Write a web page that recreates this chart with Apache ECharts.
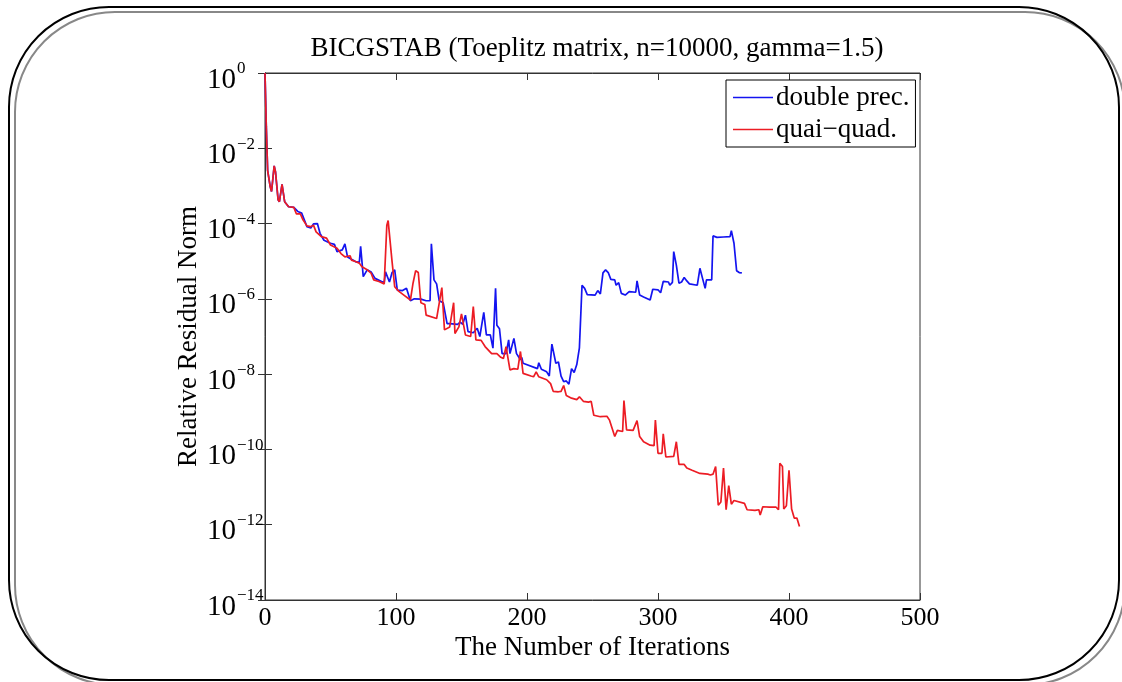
<!DOCTYPE html>
<html>
<head>
<meta charset="utf-8">
<script src="https://cdn.jsdelivr.net/npm/echarts@6/dist/echarts.min.js"></script>
<style>
html,body{margin:0;padding:0;background:#fff;}
#c{width:1122px;height:682px;}
</style>
</head>
<body>
<div id="c"></div>
<script>
// ---- data (iteration, relative residual norm) ----
var titleText = 'BICGSTAB (Toeplitz matrix, n=10000, gamma=1.5)';
var seriesNames = ['double prec.', 'quai\u2212quad.'];
var xTicks = [0, 100, 200, 300, 400, 500];
var yTickExponents = [0, -2, -4, -6, -8, -10, -12, -14];

var doublePrecIter = [0,1,2,4,5,7,8,10,11,13,15,18,22,25,28,30,32,35,37,40,42,45,50,53,55,59,61,63,69,72,73,75,78,81,84,89,91,92,95,97,99,101,105,108,111,114,119,123,126,127,129,131,133,136,139,141,147,149,151,153,155,159,162,164,167,169,172,174,176,177,179,181,184,186,187,190,192,195,196,197,208,209,211,215,217,219,222,224,226,228,230,232,234,236,238,240,242,244,246,252,254,256,258,260,262,264,267,268,270,272,275,278,283,284,286,289,294,296,300,302,304,308,309,311,312,314,316,318,320,322,324,330,331,332,334,336,337,341,342,345,350,355,356,358,360,362,364];
var doublePrecRes = [1,3.7e-2,2.6e-3,9.5e-4,7.1e-4,3.4e-3,2.4e-3,4.3e-4,3.8e-4,1.1e-3,3.8e-4,2.8e-4,2.7e-4,2.1e-4,1.9e-4,1.26e-4,8.3e-5,7.6e-5,9.8e-5,1.0e-4,5.5e-5,3.6e-5,3.0e-5,2.8e-5,1.8e-5,2.0e-5,2.9e-5,1.3e-5,9.8e-6,9.3e-6,2.5e-5,3.9e-6,5.9e-6,5.2e-6,3.5e-6,2.9e-6,2.75e-6,5.2e-6,2.8e-6,5.0e-6,5.9e-6,1.7e-6,1.66e-6,1.9e-6,8.9e-7,1.0e-6,9.8e-7,8.9e-7,8.9e-7,2.9e-5,3.2e-6,2.5e-6,8.9e-7,7.9e-7,2.2e-7,2.2e-7,2.1e-7,2.4e-7,2.1e-7,3.7e-7,1.35e-7,1.26e-7,1.66e-7,1.0e-7,4.4e-7,1.1e-7,1.1e-7,4.9e-8,1.9e-6,2.0e-7,1.6e-7,3.5e-8,3.5e-8,8.1e-8,3.5e-8,8.9e-8,3.5e-8,2.4e-8,2.8e-8,1.95e-8,1.4e-8,2.0e-8,1.35e-8,1.15e-8,8.9e-9,6.3e-8,1.95e-8,2.1e-8,8.9e-9,6.3e-9,6.6e-9,5.4e-9,1.4e-8,1.1e-8,1.8e-8,5.0e-8,2.3e-6,1.9e-6,1.3e-6,1.26e-6,1.66e-6,1.35e-6,4.9e-6,5.9e-6,5.0e-6,3.3e-6,3.2e-6,2.3e-6,2.7e-6,1.4e-6,1.26e-6,1.55e-6,1.5e-6,3.0e-6,1.26e-6,1.12e-6,9.3e-7,1.8e-6,1.74e-6,1.45e-6,2.9e-6,2.8e-6,2.3e-6,2.75e-6,1.8e-5,7.9e-6,2.6e-6,2.8e-6,3.7e-6,3.0e-6,2.5e-6,2.3e-6,2.2e-6,6.5e-6,3.5e-6,1.9e-6,3.2e-6,3.2e-6,4.7e-5,4.3e-5,4.4e-5,4.5e-5,6.5e-5,3.0e-5,5.6e-6,5.0e-6,4.9e-6];

var quasiQuadIter = [0,1,2,4,5,7,8,10,11,13,15,18,22,24,27,29,32,35,37,39,43,47,50,55,58,61,65,66,69,72,74,78,81,83,87,91,93,94,95,97,99,102,106,111,113,115,117,119,122,123,131,135,137,141,144,145,148,150,153,157,159,161,165,168,173,177,180,182,184,187,190,193,195,197,203,205,207,209,215,218,220,224,226,228,230,234,238,240,243,247,249,251,256,261,263,267,269,273,274,276,281,284,286,289,294,297,298,300,303,304,306,312,314,316,320,322,326,332,338,340,342,344,346,348,350,352,354,356,358,366,368,374,377,378,380,385,390,392,393,395,396,398,400,402,404,406,408];
var quasiQuadRes = [1,3.7e-2,2.6e-3,9.5e-4,7.1e-4,3.4e-3,2.4e-3,4.3e-4,3.8e-4,1.1e-3,3.8e-4,2.8e-4,2.7e-4,1.8e-4,1.8e-4,1.26e-4,8.7e-5,8.3e-5,9.1e-5,6.0e-5,4.5e-5,4.1e-5,2.7e-5,2.2e-5,1.6e-5,1.3e-5,1.4e-5,1.07e-5,9.8e-6,8.9e-6,7.1e-6,5.9e-6,4.8e-6,3.2e-6,2.9e-6,2.5e-6,9.1e-5,1.2e-4,1.26e-4,9.8e-6,2.1e-6,1.6e-6,1.26e-6,9.3e-7,2.6e-6,5.6e-6,5.0e-6,7.9e-7,7.1e-7,3.7e-7,3.0e-7,2.0e-6,1.5e-7,1.8e-7,7.9e-7,1.2e-7,1.8e-7,4.0e-7,1.1e-7,1.0e-7,6.2e-7,8.1e-8,7.9e-8,5.4e-8,3.5e-8,3.5e-8,2.8e-8,2.6e-8,5.4e-8,1.3e-8,1.4e-8,1.35e-8,4.0e-8,1.05e-8,8.9e-9,8.5e-9,1.15e-8,8.5e-9,7.1e-9,5.6e-9,3.5e-9,3.4e-9,3.5e-9,5.0e-9,2.7e-9,2.3e-9,2.1e-9,2.5e-9,1.9e-9,1.8e-9,1.9e-9,8.1e-10,7.4e-10,7.6e-10,6.0e-10,2.2e-10,3.2e-10,3.0e-10,2.0e-9,3.3e-10,3.2e-10,5.8e-10,2.2e-10,1.6e-10,1.3e-10,1.26e-10,6.0e-10,7.9e-11,7.9e-11,2.6e-10,6.3e-11,6.5e-11,1.6e-10,4.0e-11,4.0e-11,3.2e-11,2.8e-11,2.3e-11,2.2e-11,2.1e-11,2.2e-11,3.5e-11,3.3e-12,4.0e-12,3.2e-11,2.5e-12,1.1e-11,3.5e-12,4.4e-12,3.7e-12,2.5e-12,2.4e-12,2.5e-12,1.8e-12,3.0e-12,2.95e-12,2.95e-12,2.5e-12,4.3e-11,3.5e-11,2.6e-12,3.2e-12,2.8e-11,2.6e-12,1.5e-12,1.5e-12,8.9e-13];

function pairs(xs, ys){ var out=[]; for (var i=0;i<xs.length;i++) out.push([xs[i], ys[i]]); return out; }

var serif = 'Liberation Serif, Times New Roman, serif';
var chart = echarts.init(document.getElementById('c'), null, {renderer:'canvas'});

var yMin = Math.pow(10, yTickExponents[yTickExponents.length-1]);
var yMax = Math.pow(10, yTickExponents[0]);

function yLabel(v){
  var e = Math.round(Math.log10(v));
  return '{b|10}{s|' + (e < 0 ? '\u2212' + (-e) : String(e)) + '}';
}

var blue = '#1414f0';
var red = '#ec1c24';

var option = {
  animation: false,
  backgroundColor: '#fff',
  title: {
    text: titleText,
    left: 592, top: 30, textAlign: 'center',
    textStyle: {fontFamily: serif, fontSize: 27, fontWeight: 'normal', color: '#000'}
  },
  legend: {
    data: seriesNames,
    orient: 'vertical',
    left: 726, top: 80,
    padding: [4, 6, 4, 7],
    itemGap: 5,
    icon: 'rect',
    itemWidth: 40, itemHeight: 1.5,
    borderColor: '#000', borderWidth: 1, borderRadius: 0,
    backgroundColor: '#fff',
    textStyle: {fontFamily: serif, fontSize: 27, color: '#000', padding: [0,0,0,-2]}
  },
  grid: {left: 265, right: 202, top: 73, bottom: 82, show: true, borderColor: '#333', borderWidth: 1, backgroundColor: 'transparent'},
  xAxis: [{
    type: 'value', min: xTicks[0], max: xTicks[xTicks.length-1], interval: 100,
    name: 'The Number of Iterations', nameLocation: 'middle', nameGap: 34, nameMoveOverlap: false,
    nameTextStyle: {fontFamily: serif, fontSize: 27, color: '#000'},
    axisLine: {show: true, lineStyle: {color: '#333'}},
    axisTick: {show: true, inside: true, length: 7, lineStyle: {color: '#333'}},
    axisLabel: {fontFamily: serif, fontSize: 26, color: '#000', margin: 5},
    splitLine: {show: false}
  }, {
    type: 'value', position: 'top', min: xTicks[0], max: xTicks[xTicks.length-1], interval: 100,
    axisLine: {show: true, lineStyle: {color: '#333'}},
    axisTick: {show: true, inside: true, length: 7, lineStyle: {color: '#333'}},
    axisLabel: {show: false}, splitLine: {show: false}
  }],
  yAxis: [{
    type: 'log', logBase: 10, min: yMin, max: yMax, interval: 2,
    name: 'Relative Residual Norm', nameLocation: 'middle', nameGap: 63, nameRotate: 90, nameMoveOverlap: false,
    nameTextStyle: {fontFamily: serif, fontSize: 27, color: '#000'},
    axisLine: {show: true, lineStyle: {color: '#333'}},
    axisTick: {show: true, inside: true, length: 7, lineStyle: {color: '#333'}},
    minorTick: {show: false},
    axisLabel: {
      margin: 58, align: 'left', formatter: yLabel,
      rich: {
        b: {fontFamily: serif, fontSize: 29, color: '#000', verticalAlign: 'bottom', padding: [0,0,-9,0]},
        s: {fontFamily: serif, fontSize: 17, color: '#000', verticalAlign: 'bottom', padding: [0,0,8,1]}
      }
    },
    splitLine: {show: false}
  }, {
    type: 'log', logBase: 10, min: yMin, max: yMax, interval: 2, position: 'right',
    axisLine: {show: true, lineStyle: {color: '#333'}},
    axisTick: {show: true, inside: true, length: 7, lineStyle: {color: '#333'}},
    axisLabel: {show: false}, splitLine: {show: false}
  }],
  series: [{
    name: seriesNames[0], type: 'line', xAxisIndex: 0, yAxisIndex: 0,
    data: pairs(doublePrecIter, doublePrecRes),
    symbol: 'none', showSymbol: false, clip: true,
    lineStyle: {color: blue, width: 1.7}, itemStyle: {color: blue}, z: 2
  }, {
    name: seriesNames[1], type: 'line', xAxisIndex: 0, yAxisIndex: 0,
    data: pairs(quasiQuadIter, quasiQuadRes),
    symbol: 'none', showSymbol: false, clip: true,
    lineStyle: {color: red, width: 1.7}, itemStyle: {color: red}, z: 3
  }],
  graphic: [{
    type: 'rect', silent: true, z: -10,
    shape: {x: 15, y: 12, width: 1110, height: 673, r: 100},
    style: {fill: 'none', stroke: '#888', lineWidth: 2}
  }, {
    type: 'rect', silent: true, z: -9,
    shape: {x: 9, y: 7, width: 1110, height: 673, r: 100},
    style: {fill: 'none', stroke: '#000', lineWidth: 2}
  }]
};
chart.setOption(option);
</script>
</body>
</html>
